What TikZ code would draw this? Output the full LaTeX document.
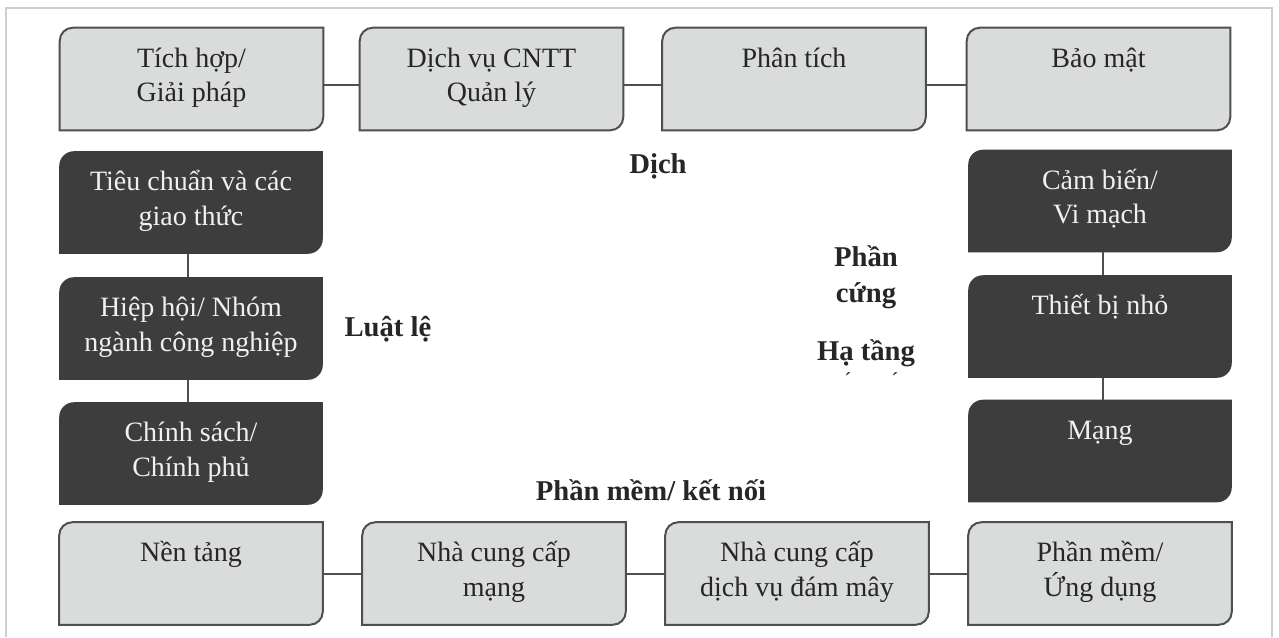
\documentclass[tikz,border=0pt]{standalone}
\usepackage{fontspec}
\setmainfont{Liberation Serif}
\usetikzlibrary{backgrounds}

\definecolor{panel}{HTML}{D9DCDA}
\definecolor{panelline}{HTML}{4F4F4F}
\definecolor{darkpanel}{HTML}{3D3D3D}
\definecolor{ink}{HTML}{262626}
\definecolor{frameline}{HTML}{CFCFCF}

% text of a card: top aligned, fixed height
\newcommand\cardtext[1]{\parbox[c][76.5pt][t]{195pt}{\centering\fontsize{21}{26}\selectfont\rule{0pt}{29.5pt}#1}}

\tikzset{
  card/.style={inner sep=0pt, minimum width=197.25pt, minimum height=76.5pt},
  lightcard/.style={card, text=ink},
  darkcard/.style={card, text=white!94!black},
  link/.style={draw=panelline, line width=1.5pt},
  tag/.style={font=\fontsize{21.5}{24}\selectfont\bfseries, text=ink, anchor=base, inner sep=0pt},
}

\begin{document}
\begin{tikzpicture}[x=0.75pt,y=0.75pt]
\useasboundingbox (0,0) rectangle (1279,637);

% top row
\node[lightcard] (integ)     at (191.5,558) {\cardtext{Tích hợp/\\Giải pháp}};
\node[lightcard] (itsvc)     at (491.5,558) {\cardtext{Dịch vụ CNTT\\Quản lý}};
\node[lightcard] (analytics) at (794,558)   {\cardtext{Phân tích}};
\node[lightcard] (security)  at (1098.5,558) {\cardtext{Bảo mật}};

% left column
\node[darkcard] (standards) at (191,434.5) {\cardtext{Tiêu chuẩn và các\\giao thức}};
\node[darkcard] (alliances) at (191,308.5) {\cardtext{Hiệp hội/ Nhóm\\ngành công nghiệp}};
\node[darkcard] (policy)    at (191,183.5) {\cardtext{Chính sách/\\Chính phủ}};

% right column
\node[darkcard] (sensors) at (1100,436)   {\cardtext{Cảm biến/\\Vi mạch}};
\node[darkcard] (devices) at (1100,310.5) {\cardtext{Thiết bị nhỏ}};
\node[darkcard] (network) at (1100,186)   {\cardtext{Mạng}};

% bottom row
\node[lightcard] (platform) at (191,63.5)  {\cardtext{Nền tảng}};
\node[lightcard] (netprov)  at (494,63.5)  {\cardtext{Nhà cung cấp\\mạng}};
\node[lightcard] (cloud)    at (797,63.5)  {\cardtext{Nhà cung cấp\\dịch vụ đám mây}};
\node[lightcard] (apps)     at (1100,63.5) {\cardtext{Phần mềm/\\Ứng dụng}};

% group labels
\node[tag] (lservices) at (658,464) {Dịch};
\node[tag] (lrules)    at (388,301) {Luật lệ};
\node[tag] (lsoftware) at (651,137) {Phần mềm/ kết nối};
\node[tag] (lhw1)      at (866,371) {Phần};
\node[tag] (lhw2)      at (866,335) {cứng};
\node[tag] (linfra)    at (866,277) {Hạ tầng};
\node[tag, font=\fontsize{16}{16}\selectfont] (acc1) at (848,250) {´};
\node[tag, font=\fontsize{16}{16}\selectfont] (acc2) at (895,250) {´};

% connectors
\draw[link] ([yshift=-4.5pt]integ.east)     -- ([yshift=-4.5pt]itsvc.west);
\draw[link] ([yshift=-4.5pt]itsvc.east)     -- ([yshift=-4.5pt]analytics.west);
\draw[link] ([yshift=-4.5pt]analytics.east) -- ([yshift=-4.5pt]security.west);
\draw[link] (platform.east) -- (netprov.west);
\draw[link] (netprov.east)  -- (cloud.west);
\draw[link] (cloud.east)    -- (apps.west);
\draw[link] ([xshift=-2.25pt]standards.south) -- ([xshift=-2.25pt]alliances.north);
\draw[link] ([xshift=-2.25pt]alliances.south) -- ([xshift=-2.25pt]policy.north);
\draw[link] ([xshift=2.25pt]sensors.south) -- ([xshift=2.25pt]devices.north);
\draw[link] ([xshift=2.25pt]devices.south) -- ([xshift=2.25pt]network.north);

\begin{scope}[on background layer]
  \fill[white] (0,0) rectangle (1279,637);
  \draw[frameline, line width=1.5pt] (6,0) -- (6,629) -- (1272,629) -- (1272,0);
  \foreach \n in {integ,itsvc,analytics,security,platform,netprov,cloud,apps}
    \filldraw[fill=panel, draw=panelline, line width=1.5pt]
      (\n.south west) -- ([yshift=-9.75pt]\n.north west)
      arc[start angle=180, end angle=90, radius=9.75pt]
      -- (\n.north east) -- ([yshift=9.75pt]\n.south east)
      arc[start angle=0, end angle=-90, radius=9.75pt] -- cycle;
  \foreach \n in {standards,alliances,policy,sensors,devices,network}
    \fill[darkpanel]
      (\n.south west) -- ([yshift=-11pt]\n.north west)
      arc[start angle=180, end angle=90, radius=11pt]
      -- (\n.north east) -- ([yshift=11pt]\n.south east)
      arc[start angle=0, end angle=-90, radius=11pt] -- cycle;
\end{scope}
\end{tikzpicture}
\end{document}
